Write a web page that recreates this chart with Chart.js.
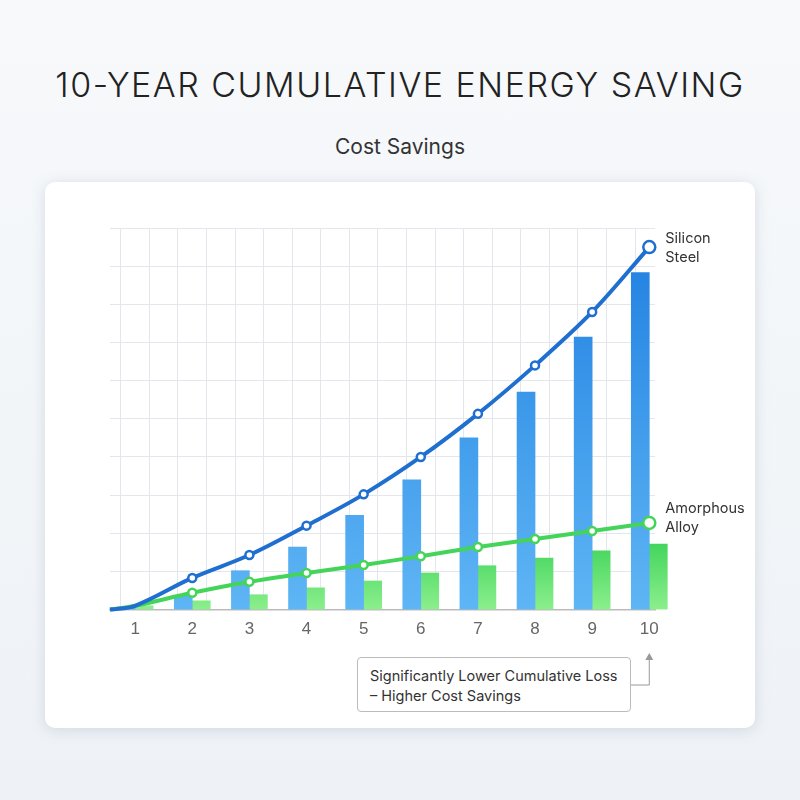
<!DOCTYPE html>
<html><head><meta charset="utf-8">
<script src="https://cdn.jsdelivr.net/npm/chart.js@4"></script>
<style>
html,body{margin:0;padding:0;width:800px;height:800px;background:linear-gradient(180deg,#f7f9fb,#eef2f6);font-family:Inter,"Noto Sans",sans-serif;overflow:hidden}
#title{position:absolute;top:64px;left:0;width:800px;text-align:center;font-size:34px;font-weight:300;letter-spacing:1.5px;color:#222}
#sub{position:absolute;top:134px;left:0;width:800px;text-align:center;font-size:21px;color:#333}
#card{position:absolute;left:45px;top:182px;width:710px;height:546px;background:#fff;border-radius:10px;box-shadow:0 2px 14px rgba(120,140,170,.25)}
#wrap{position:absolute;left:0;top:0;width:800px;height:800px}
#callout{position:absolute;left:357px;top:657px;width:274px;height:55px;border:1px solid #bbb;border-radius:4px;background:#fff;font-size:14.5px;color:#333;padding:8px 12px;box-sizing:border-box;line-height:20px}
</style></head><body>
<div id="title">10-YEAR CUMULATIVE ENERGY SAVING</div>
<div id="sub">Cost Savings</div>
<div id="card"></div>
<div id="wrap"><canvas id="c" width="800" height="800"></canvas></div>
<div id="callout">Significantly Lower Cumulative Loss<br>– Higher Cost Savings</div>
<script>
const years=[1,2,3,4,5,6,7,8,9,10];
const siliconLine=[1,8.3,14.3,22,30.2,40,51.3,64,78,95];
const amorphousLine=[1,4.4,7.3,9.6,11.7,14,16.4,18.5,20.6,22.7];
const siliconBars=[0.5,3.6,10.2,16.4,24.7,34,45,57,71.4,88.3];
const amorphousBars=[1,2.3,3.9,5.7,7.5,9.6,11.5,13.5,15.4,17.2];
const seriesNames=['Silicon\nSteel','Amorphous\nAlloy'];
const startX=0.56;
const pts=(a)=>[{x:startX,y:0}].concat(years.map((y,i)=>({x:y,y:a[i]})));
const bars=(a)=>years.map((y,i)=>({x:y,y:a[i]}));
const ctx=document.getElementById('c').getContext('2d');
const gB=ctx.createLinearGradient(0,230,0,612);gB.addColorStop(0,'#1f7fe0');gB.addColorStop(1,'#5fb6f5');
const gG=ctx.createLinearGradient(0,540,0,612);gG.addColorStop(0,'#3fd35a');gG.addColorStop(1,'#8ef08e');
const radii=[0,0,4,4,4,4,4,4,4,4,6];
const labelsPlugin={id:'lbl',afterDatasetsDraw(ch){
 const c=ch.ctx,xs=ch.scales.x,ys=ch.scales.y;
 c.save();c.font='14.5px Inter, sans-serif';c.fillStyle='#333';c.textBaseline='middle';
 const put=(txt,v,dy)=>{txt.split('\n').forEach((t,i)=>c.fillText(t,xs.getPixelForValue(10)+16,ys.getPixelForValue(v)+dy+i*19));};
 put(seriesNames[0],siliconLine[9],-8);put(seriesNames[1],amorphousLine[9],-14);
 const px=xs.getPixelForValue(10);
 c.strokeStyle='#999';c.lineWidth=1;c.beginPath();c.moveTo(631,685);c.lineTo(px,685);c.lineTo(px,660);c.stroke();
 c.fillStyle='#999';c.beginPath();c.moveTo(px-4,660);c.lineTo(px+4,660);c.lineTo(px,653);c.fill();
 c.restore();}};
new Chart(ctx,{
 data:{datasets:[
  {type:'line',data:pts(siliconLine),borderColor:'#1f6fd0',borderWidth:4,tension:0.35,pointRadius:radii,pointBackgroundColor:'#fff',pointBorderColor:'#1f6fd0',pointBorderWidth:2.5,order:0,clip:false},
  {type:'line',data:pts(amorphousLine),borderColor:'#45d45a',borderWidth:4,tension:0.3,pointRadius:radii,pointBackgroundColor:'#fff',pointBorderColor:'#45d45a',pointBorderWidth:2.5,order:0,clip:false},
  {type:'bar',data:bars(siliconBars),backgroundColor:gB,barThickness:18,order:1,clip:false},
  {type:'bar',data:bars(amorphousBars),backgroundColor:gG,barThickness:18,order:1,clip:false}
 ]},
 options:{responsive:false,animation:false,
  layout:{padding:{left:110,right:145,top:228,bottom:150}},
  plugins:{legend:{display:false},tooltip:{enabled:false}},
  scales:{
   x:{type:'linear',min:startX,max:10.1,offset:false,
      afterBuildTicks:s=>{const t=[];for(let v=1;v<=10.001;v+=0.5)t.push({value:v});s.ticks=t;},
      ticks:{autoSkip:false,maxRotation:0,color:'#666',font:{size:17},padding:10,callback:v=>Number.isInteger(v)?String(v):''},
      grid:{color:'#e3e7ec',drawTicks:false},border:{color:'#bbb',width:1.5}},
   y:{min:0,max:100,ticks:{display:false,stepSize:10},grid:{color:'#e3e7ec',drawTicks:false},border:{display:false}}
  }},
 plugins:[labelsPlugin]});
</script></body></html>
